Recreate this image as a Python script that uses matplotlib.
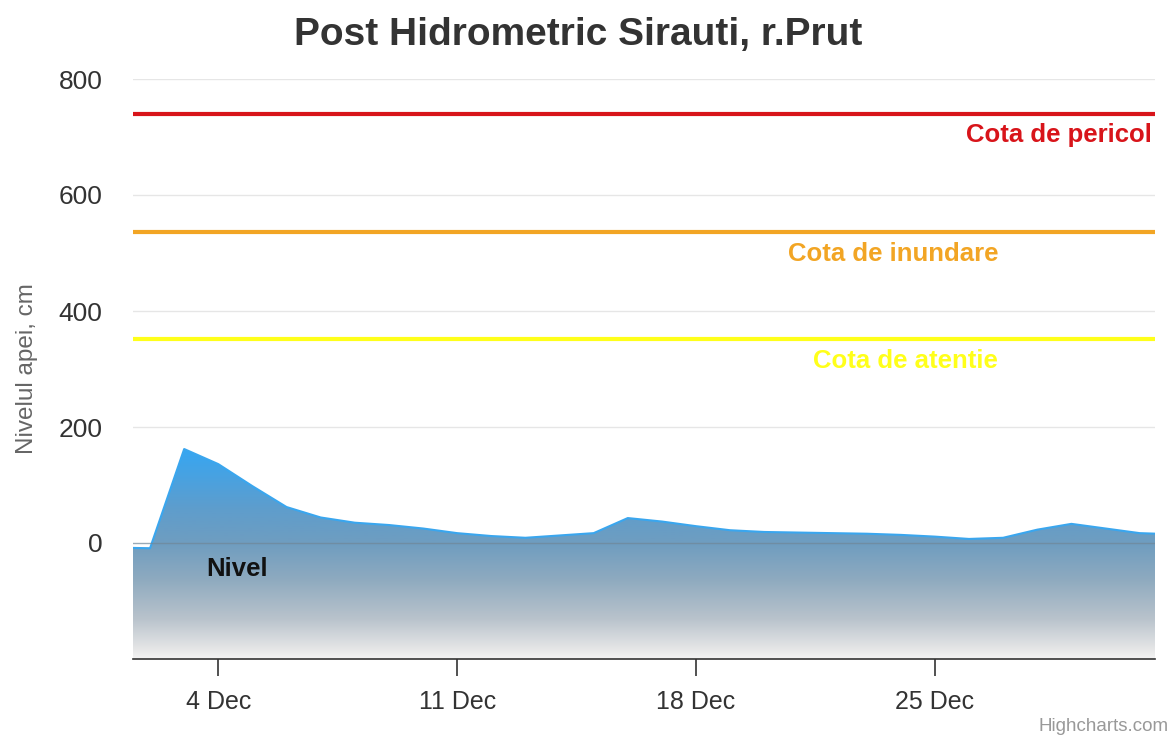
import matplotlib.pyplot as plt
import numpy as np
from matplotlib.colors import LinearSegmentedColormap

# date (day of December) and water level, cm
days = np.arange(1, 33)
nivel = [-8, -9, 162, 136, 98, 62, 44, 35, 31, 25, 17, 12, 9, 13, 17, 43,
         37, 29, 22, 19, 18, 17, 16, 14, 11, 7, 9, 23, 33, 25, 17, 15]

tick_days = [4, 11, 18, 25]
tick_labels = ['4 Dec', '11 Dec', '18 Dec', '25 Dec']

cote_nume = ['Cota de pericol', 'Cota de inundare', 'Cota de atentie']
cote_val = [740, 536, 351]
cote_col = ['#d8141a', '#f2a524', '#ffff1a']

plt.rcParams['font.family'] = ['Liberation Sans', 'DejaVu Sans']

fig = plt.figure(figsize=(11.75, 7.37), dpi=100)
ax = fig.add_axes([133/1175, 1-659/737, (1155-133)/1175, (659-79)/737])

ymin, ymax = -200, 800
xmin, xmax = 1.5, 31.45
ax.set_xlim(xmin, xmax)
ax.set_ylim(ymin, ymax)

# grid lines
for v in [200, 400, 600, 800]:
    ax.axhline(v, color='#e6e6e6', lw=1, zorder=0)

# gradient area
poly = ax.fill_between(days, nivel, ymin, color='none', lw=0)
cmap = LinearSegmentedColormap.from_list('niv', [
    (0.0, '#f4f4f4'), (0.05, '#e4e5e6'), (0.19, '#b9c3cc'), (0.38, '#8eaabf'),
    (0.55, '#6f9dc0'), (0.71, '#5f9dcc'), (1.0, '#36a6f2')])
grad = np.linspace(0, 1, 256).reshape(-1, 1)
im = ax.imshow(grad, cmap=cmap, aspect='auto', origin='lower',
               extent=[xmin, xmax, ymin, max(nivel)], zorder=1)
path = poly.get_paths()[0]
im.set_clip_path(path, transform=ax.transData)
ax.plot(days, nivel, color='#3aa6ee', lw=1.5, zorder=2)
ax.axhline(0, color='#6f8797', lw=1, alpha=0.7, zorder=2)

# warning levels
label_x = [31.36, 26.85, 26.85]
for nume, v, c, lx in zip(cote_nume, cote_val, cote_col, label_x):
    ax.axhline(v, color=c, lw=3, zorder=3)
    ax.text(lx, v - 37, nume, color=c, fontsize=18.5, fontweight='bold',
            ha='right', va='center', zorder=4)

ax.text(4.55, -44, 'Nivel', fontsize=18.5, fontweight='bold', color='#111111',
        ha='center', va='center', zorder=4)

for s in ['top', 'right', 'left']:
    ax.spines[s].set_visible(False)
ax.spines['bottom'].set_color('#333333')
ax.spines['bottom'].set_linewidth(1.2)

ax.set_yticks([0, 200, 400, 600, 800])
ax.set_xticks(tick_days)
ax.set_xticklabels(tick_labels)
ax.tick_params(axis='y', length=0, pad=22, labelsize=19, labelcolor='#333333')
ax.tick_params(axis='x', length=12, width=1.2, color='#333333', pad=10,
               labelsize=18, labelcolor='#333333')

ax.set_ylabel('Nivelul apei, cm', fontsize=17.5, color='#666666', labelpad=15)
fig.text(0.492, 0.953, 'Post Hidrometric Sirauti, r.Prut', fontsize=28,
         fontweight='bold', color='#333333', ha='center', va='center')
fig.text(0.995, 0.003, 'Highcharts.com', fontsize=13.5, color='#999999',
         ha='right', va='bottom')

fig.savefig('out.png', dpi=100)
